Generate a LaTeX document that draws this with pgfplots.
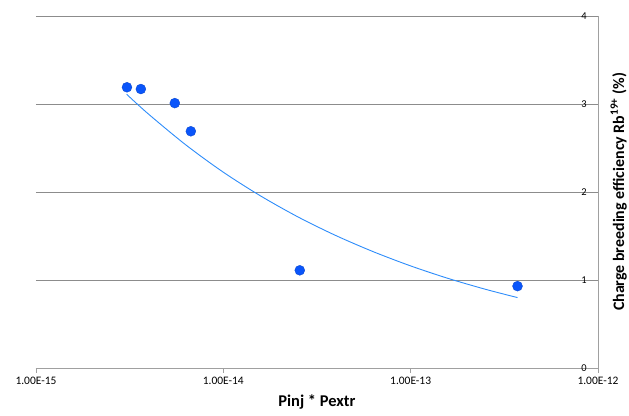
\documentclass[border=0pt]{standalone}
\usepackage{fontspec}
\setmainfont{Carlito}
\usepackage{pgfplots}
\pgfplotsset{compat=1.18}
\definecolor{ptblue}{RGB}{10,85,250}
\definecolor{lnblue}{RGB}{45,140,250}
\definecolor{gridgray}{RGB}{140,140,140}
\definecolor{axgray}{RGB}{160,160,160}
\begin{document}
\begin{tikzpicture}
\begin{axis}[
  scale only axis,
  width=562bp, height=352bp,
  xmode=log,
  xmin=1e-15, xmax=1e-12,
  ymin=0, ymax=4,
  axis x line=bottom,
  axis y line=right,
  axis line style={-, draw=axgray, line width=0.8bp},
  xtick={1e-15,1e-14,1e-13,1e-12},
  xticklabels={1.00E-15,1.00E-14,1.00E-13,1.00E-12},
  minor xtick={},
  xminorticks=false,
  ytick={0,1,2,3,4},
  ymajorgrids,
  grid style={draw=gridgray, line width=0.8bp},
  xtick style={draw=axgray, line width=0.8bp},
  major tick length=5bp,
  tick align=outside,
  ytick style={draw=none},
  /pgf/number format/assume math mode=true,
  xticklabel style={font=\fontsize{11.5}{13}\selectfont, yshift=-1bp},
  yticklabel style={font=\fontsize{10.5}{12}\selectfont, anchor=east, inner sep=0pt, xshift=-16bp},
  xlabel={\textbf{Pinj * Pextr}},
  xlabel style={font=\fontsize{16.5}{19}\selectfont, at={(axis description cs:0.5,0)}, anchor=north, yshift=-27bp, inner sep=0pt},
  ylabel={\textbf{Charge breeding efficiency Rb\textsuperscript{19+} (\%)}},
  ylabel style={font=\fontsize{16}{19}\selectfont, at={(axis description cs:1.022,0.5)}, anchor=north, inner sep=0pt, rotate=0},
  clip=false,
]
\addplot[lnblue, line width=0.9bp, no marks, smooth] coordinates {
  (3.05e-15,3.11) (3.98e-15,2.887) (6.31e-15,2.535) (1e-14,2.225)
  (1.585e-14,1.954) (2.512e-14,1.715) (3.98e-14,1.506) (6.31e-14,1.322)
  (1e-13,1.160) (1.585e-13,1.018) (2.512e-13,0.894) (3.72e-13,0.80)
};
\addplot[only marks, mark=*, mark size=5bp, mark options={fill=ptblue, draw=ptblue!80!black, line width=0.3bp}] coordinates {
  (3.06e-15,3.19) (3.63e-15,3.17) (5.51e-15,3.01) (6.71e-15,2.69)
  (2.56e-14,1.11) (3.72e-13,0.93)
};
\end{axis}
\pgfresetboundingbox
\path[use as bounding box] ([xshift=-36bp,yshift=-48bp]current axis.south west) rectangle ([xshift=31bp,yshift=16bp]current axis.north east);
\end{tikzpicture}
\end{document}
